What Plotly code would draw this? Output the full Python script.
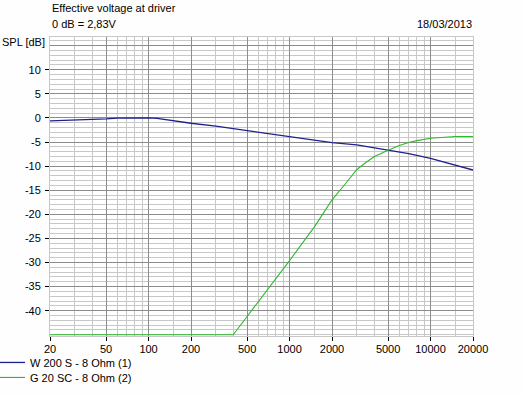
import plotly.graph_objects as go

# ---- data ----
freq_w = [20, 30, 40, 50, 60, 70, 100, 115, 150, 200, 300, 500, 750, 1000, 1200,
          2000, 3000, 5000, 7000, 10000, 15000, 20000]
spl_w = [-0.6, -0.45, -0.4, -0.2, -0.05, 0.0, 0.0, -0.1, -0.6, -1.1, -1.7, -2.6, -3.3,
         -3.8, -4.2, -5.1, -5.6, -6.7, -7.4, -8.4, -9.8, -10.8]

freq_g = [20, 398, 500, 700, 1000, 1500, 2000, 2500, 3000, 3500, 4000, 5000, 6000,
          7000, 8000, 10000, 12500, 15000, 20000]
spl_g = [-45, -45, -41.2, -35.6, -29.6, -22.6, -17.0, -13.6, -10.7, -9.2, -8.0, -6.7,
         -5.7, -5.1, -4.7, -4.2, -3.95, -3.85, -3.85]

names = ["W 200 S - 8 Ohm (1)", "G 20 SC - 8 Ohm (2)"]

x_major = [20, 50, 100, 200, 500, 1000, 2000, 5000, 10000, 20000]
x_minor = [30, 40, 60, 70, 80, 90, 150, 300, 400, 600, 700, 800, 900, 1500,
           3000, 4000, 6000, 7000, 8000, 9000, 15000]
y_ticks = [-40, -35, -30, -25, -20, -15, -10, -5, 0, 5, 10]
y_extra_grid = [15]

title1 = "Effective voltage at driver"
title2 = "0 dB = 2,83V"
date_txt = "18/03/2013"
y_title = "SPL [dB]"

FONT = "Liberation Sans, Arial, sans-serif"
MAJ = "#8c8c8c"
MIN = "#c8c8c8"

# positions below are in screen pixels (body margin is removed by post_script)
W, H = 522, 396
plot_l, plot_r, plot_t, plot_b = 50, 473, 37, 336.5
L = plot_l
R = W - plot_r
T = plot_t
B = H - plot_b
ph = H - T - B
pw = W - L - R

def px_x(sx):  # screen x -> paper x
    return (sx - plot_l) / pw

def px_y(sy):  # screen y -> paper y
    return (plot_b - sy) / ph

fig = go.Figure()
fig.add_trace(go.Scatter(x=freq_w, y=spl_w, mode="lines", name=names[0],
                         legend="legend",
                         line=dict(color="#20208c", width=1.3)))
fig.add_trace(go.Scatter(x=freq_g, y=spl_g, mode="lines", name=names[1],
                         legend="legend2",
                         line=dict(color="#2eb82e", width=1.1)))
# invisible helper trace for the extra grid line axis
fig.add_trace(go.Scatter(x=[20], y=[15], yaxis="y2", mode="markers",
                         marker=dict(opacity=0), showlegend=False, hoverinfo="skip"))

def leg(ycenter):
    return dict(x=px_x(-10), xanchor="left", y=px_y(ycenter),
                yanchor="middle", font=dict(size=11, family=FONT),
                bgcolor="rgba(0,0,0,0)", itemwidth=30, borderwidth=0)

yr = [-45.25, 16.8]
fig.update_layout(
    width=W, height=H,
    margin=dict(l=L, r=R, t=T, b=B, pad=0, autoexpand=False),
    paper_bgcolor="#fefefe", plot_bgcolor="white",
    font=dict(family=FONT, size=11, color="black"),
    showlegend=True,
    legend=leg(363),
    legend2=leg(378),
    xaxis=dict(type="log", range=[1.30103, 4.30103],
               tickvals=x_major, ticktext=[str(v) for v in x_major],
               ticks="outside", ticklen=4, tickcolor="black", tickwidth=1,
               showgrid=True, gridcolor=MAJ, gridwidth=1,
               minor=dict(tickvals=x_minor, showgrid=True, gridcolor=MIN, ticks=""),
               showline=True, linecolor=MIN, mirror=True, zeroline=False,
               layer="below traces",
               tickfont=dict(size=11, family=FONT, color="black"),
               ticklabelstandoff=-1),
    yaxis=dict(range=yr, tickvals=y_ticks, ticktext=[str(v) for v in y_ticks],
               ticks="outside", ticklen=4, tickcolor="black", tickwidth=1,
               showgrid=True, gridcolor=MAJ, gridwidth=1,
               minor=dict(dtick=1, tick0=0, showgrid=True, gridcolor=MIN, ticks=""),
               showline=True, linecolor=MIN, mirror=True, zeroline=False,
               layer="below traces",
               tickfont=dict(size=11, family=FONT, color="black"),
               ticklabelstandoff=2),
    yaxis2=dict(range=yr, overlaying="y", tickvals=y_extra_grid, showticklabels=False,
                ticks="", showgrid=True, gridcolor=MAJ, zeroline=False, showline=False),
    hovermode=False,
)

def ann(text, sx, sy, xanchor):
    fig.add_annotation(text=text, xref="paper", yref="paper", x=px_x(sx), y=px_y(sy),
                       xanchor=xanchor, yanchor="middle", showarrow=False,
                       font=dict(size=11, family=FONT, color="black"))

ann(title1, 50, 8, "left")
ann(title2, 50, 24, "left")
ann(date_txt, 474, 24, "right")
ann(y_title, 47, 42, "right")

fig.write_html("out.html",
               config={"displayModeBar": False},
               post_script="document.body.style.margin='0';"
                           "document.documentElement.style.overflow='hidden';")
